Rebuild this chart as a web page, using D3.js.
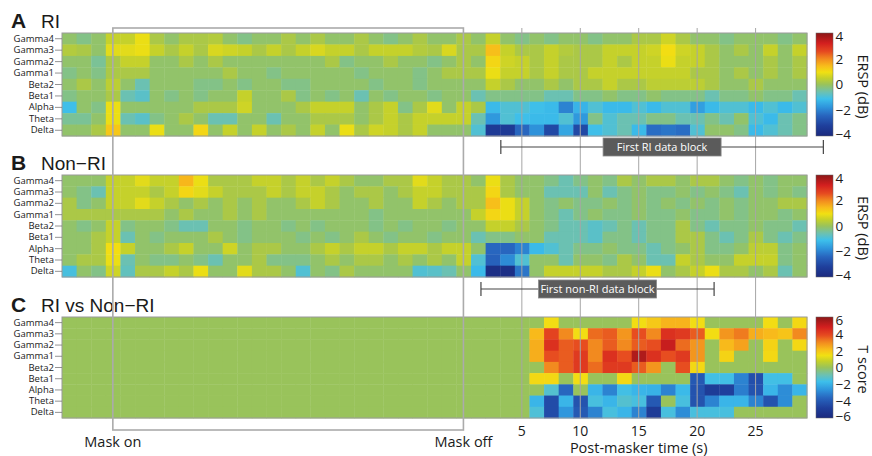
<!DOCTYPE html>
<html>
<head>
<meta charset="utf-8">
<script src="https://cdn.jsdelivr.net/npm/d3@7"></script>
<style>
  body { margin: 0; background: #fff; }
  svg { display: block; }
  text { font-family: "Open Sans", "Liberation Sans", sans-serif; fill: #1a1a1a; }
  .title { font-family: "Liberation Sans", Arial, sans-serif; }
</style>
</head>
<body>
<div id="chart"></div>
<script>
// ---- data ----
const bands = ["Gamma4", "Gamma3", "Gamma2", "Gamma1", "Beta2", "Beta1", "Alpha", "Theta", "Delta"];
const binStart = -34.35;   // s, left edge of first bin (0 = mask off)
const binWidth = 1.25;     // s per bin
const nBins = 51;
const maskOn = -30, maskOff = 0;
const timeTicks = [5, 10, 15, 20, 25];
const erspTicks = [4, 2, 0, -2, -4];
const tTicks = [6, 4, 2, 0, -2, -4, -6];
const riBlock = [3.2, 30.8];
const nonRiBlock = [1.5, 21.45];

// ERSP (dB), RI group, one row per band, 51 bins
const ersp_ri = [
  [-0.1,-0.3,-0.1,0.5,0.5,0.9,0.2,-0.1,0.2,0.2,0.3,-0.1,-0.3,-0.1,-0.1,0.2, -0.1,0.2,-0.1,-0.1,0.2,-0.1,-0.3,-0.1,0.2,-0.1,-0.1,0.2, -0.1,0.5,-0.1,-0.3,-0.1,-0.3,-0.1, -0.1,-0.3,-0.1,-0.1,0.2,0.2,0.6,0.2,-0.1,-0.1,-0.3,-0.1,-0.1,-0.1,-0.3,-0.1],
  [0.3,0.2,-0.1,0.8,0.8,0.9,0.5,0.2,0.5,0.2,0.7,0.6,0.5,0.2,0.5,0.2, 0.5,0.7,0.5,0.5,0.2,0.5,0.5,0.5,0.3,0.2,0.7,0.2, 0.2,1.4,0.5,0.2,0.2,0.5,0.3, 0.2,0.2,0.5,0.5,0.5,0.6,1.0,0.6,0.5,0.2,-0.1,0.2,-0.1,0.5,-0.1,0.5],
  [-0.1,-0.1,-0.4,0.2,0.5,0.5,-0.1,-0.1,0.2,-0.1,0.2,-0.1,-0.1,-0.1,-0.1,-0.1, -0.1,-0.1,0.2,-0.3,-0.1,-0.1,0.2,-0.1,-0.1,-0.3,-0.1,0.2, -0.1,1.1,0.6,0.5,0.2,0.5,0.2, 0.2,0.2,0.5,0.2,0.5,0.5,0.9,0.5,0.5,0.2,-0.1,-0.1,-0.1,0.2,-0.1,0.2],
  [-0.3,-0.1,-0.3,0.2,0.2,0.2,-0.1,-0.1,-0.1,-0.1,-0.1,0.2,-0.1,-0.1,-0.3,-0.1, -0.1,-0.1,-0.1,-0.1,-0.3,-0.1,-0.1,-0.1,-0.3,-0.1,0.2,0.2, 0.2,0.9,0.5,0.5,0.2,0.5,0.2, 0.2,0.5,0.5,0.5,0.5,0.5,0.5,0.5,0.2,0.2,-0.1,0.2,-0.1,0.2,-0.1,0.2],
  [-0.1,0.2,-0.1,0.4,-0.1,-0.6,-0.1,-0.1,-0.1,-0.3,-0.3,-0.1,-0.3,-0.1,-0.1,-0.3, -0.3,-0.1,-0.1,-0.1,-0.1,-0.3,-0.1,-0.1,-0.3,-0.1,-0.1,-0.1, -0.1,0.5,0.2,-0.1,-0.1,0.2,-0.1, 0.2,0.2,0.5,0.2,0.2,0.4,0.4,0.4,0.4,0.2,-0.1,-0.1,0.2,-0.1,-0.1,-0.1],
  [-0.3,-0.1,-0.1,0.2,-0.6,-0.8,-0.1,-0.3,-0.1,-0.3,-0.1,-0.1,0.5,-0.1,-0.1,0.2, -0.3,-0.1,-0.3,-0.1,-0.6,-0.1,-0.3,-0.1,-0.1,-0.3,-0.1,-0.1, -0.6,-0.3,-0.3,-0.3,-0.3,-0.6,-0.6, -0.3,-0.3,-0.1,-0.3,-0.3,-0.1,-0.3,-0.3,-0.3,-0.6,-0.3,-0.3,-0.1,-0.3,-0.3,-0.6],
  [-1.1,-0.1,-0.3,0.9,-0.1,-0.1,-0.1,-0.1,-0.1,0.2,0.2,0.2,0.6,-0.1,-0.1,-0.1, 0.2,0.5,0.5,0.5,-0.1,0.2,0.5,-0.3,0.2,0.8,-0.1,0.5, 0.2,-1.2,-0.9,-0.9,-1.1,-1.2,-2.0, -1.3,-0.9,-1.2,-1.2,-0.9,-1.2,-0.9,-0.9,-1.6,-1.2,-0.9,-0.9,-1.2,-0.9,-1.2,-0.9],
  [-0.4,-0.4,-0.1,0.9,-0.6,-0.8,-0.3,-0.1,0.2,-0.1,-0.6,-0.6,-0.1,-0.1,-0.6,-0.1, -0.1,0.2,0.2,0.2,-0.1,0.2,0.5,0.2,0.5,0.5,0.5,0.5, -0.6,-1.7,-0.9,-1.1,-1.2,-1.2,-0.9, -1.7,-0.3,-0.9,-0.6,-0.6,-0.3,-0.3,-0.6,-0.6,-0.3,-0.6,-0.1,-0.9,-1.2,-0.6,-0.3],
  [-0.1,-0.1,0.2,1.3,-0.1,-0.1,0.9,-0.1,-0.1,1.1,-0.1,0.5,-0.1,0.5,-0.1,0.2, -0.1,0.5,-0.1,0.9,0.2,0.6,0.5,0.2,0.5,-0.1,-0.1,-0.1, -0.9,-3.4,-3.4,-2.4,-1.8,-3.0,-1.5, -3.0,-1.1,-0.9,-0.6,-1.2,-2.3,-2.2,-2.3,-0.9,-0.1,-0.1,-0.3,-1.2,-0.9,-0.6,-0.3]
];

// ERSP (dB), non-RI group
const ersp_nonri = [
  [-0.1,-0.1,-0.1,0.5,0.5,0.8,0.5,0.5,1.5,0.9,0.2,0.2,0.2,0.5,0.5,0.2, 0.5,0.2,0.5,0.2,-0.1,-0.1,0.2,0.2,0.8,0.5,0.2,0.2, -0.1,0.9,0.2,-0.1,-0.1,-0.3,-0.6, -0.3,-0.1,-0.3,0.2,-0.1,0.2,0.2,-0.1,0.2,0.2,-0.1,-0.3,-0.1,-0.3,-0.1,-0.1],
  [-0.1,-0.3,-0.6,0.5,0.5,0.5,0.2,0.5,1.1,0.8,0.5,0.2,0.2,0.2,0.5,0.2, 0.5,0.5,0.2,-0.1,0.2,0.2,-0.1,0.2,0.5,0.5,0.2,0.2, 0.2,1.1,0.2,-0.1,-0.1,-0.6,-0.6, -0.6,-0.1,-0.6,-0.3,-0.1,-0.3,-0.3,-0.1,-0.3,-0.1,-0.3,-0.6,-0.1,-0.3,-0.1,-0.3],
  [0.2,-0.3,-0.1,0.5,0.5,0.8,0.5,0.2,-0.1,0.2,-0.1,0.2,-0.1,0.2,-0.1,-0.1, 0.2,0.5,0.2,-0.1,-0.1,0.2,-0.1,-0.1,0.5,0.2,-0.1,0.2, 0.2,1.4,0.9,0.5,-0.1,-0.3,-0.1, -0.3,-0.3,-0.1,-0.3,-0.1,-0.3,-0.1,-0.3,-0.1,-0.3,-0.1,-0.3,-0.1,-0.1,0.2,0.2],
  [0.2,0.2,0.2,0.2,0.2,0.2,0.2,-0.1,0.2,-0.1,-0.1,0.2,-0.1,0.2,-0.1,-0.1, -0.1,-0.1,-0.1,-0.1,-0.1,-0.3,-0.1,-0.1,-0.1,-0.1,-0.1,-0.1, 0.5,1.1,0.9,0.5,-0.1,-0.3,-0.6, -0.3,-0.1,-0.3,-0.3,-0.1,-0.3,-0.3,-0.1,-0.3,-0.3,-0.1,-0.3,-0.1,-0.1,-0.3,-0.1],
  [-0.1,-0.3,-0.1,0.5,-0.3,-0.1,-0.1,-0.3,-0.6,-0.6,-0.1,-0.1,-0.3,-0.1,-0.1,-0.3, -0.1,-0.3,-0.1,-0.1,-0.1,-0.3,-0.1,-0.3,-0.1,-0.1,-0.3,-0.1, -0.1,0.5,0.5,0.2,-0.1,-0.3,-0.6, -0.6,-0.8,-0.6,-0.3,-0.6,-0.3,-0.3,0.2,-0.3,-0.6,-0.3,-0.3,-0.1,-0.3,-0.3,-0.6],
  [-0.1,-0.1,0.2,0.5,-0.6,-0.1,-0.3,-0.1,-0.1,-0.1,0.2,-0.1,-0.3,-0.1,-0.1,-0.1, -0.3,-0.1,-0.3,-0.1,0.2,-0.1,-0.3,-0.1,-0.1,-0.3,-0.1,-0.1, -0.6,-0.3,-0.3,-0.1,-0.1,-0.6,-0.6, -0.6,-0.8,-0.3,-0.3,-0.6,-0.3,-0.3,0.2,0.2,-0.3,-0.6,-0.3,0.2,-0.3,-0.6,-0.3],
  [-0.1,-0.1,0.2,1.0,0.5,-0.1,-0.1,0.2,0.5,-0.1,-0.1,0.6,-0.1,0.2,0.2,-0.1, -0.1,0.2,0.5,0.2,0.5,0.5,0.2,0.5,0.5,0.2,0.5,0.5, -0.1,-2.4,-2.4,-2.0,-1.2,-0.9,-0.6, -0.3,-0.3,-0.1,-0.3,-0.3,-0.6,-0.3,-0.1,0.2,-0.3,-0.3,-0.1,0.4,0.4,-0.3,-0.1],
  [-0.1,0.2,0.2,0.9,-0.6,-0.1,-0.3,-0.3,-0.1,-0.3,-0.6,-0.1,-0.1,0.2,-0.3,-0.3, -0.3,-0.1,0.2,-0.1,0.2,0.2,-0.1,0.2,-0.1,0.2,-0.1,0.5, -0.9,-2.5,-1.9,-0.9,-0.1,-0.1,-0.6, -0.1,-0.1,-0.3,0.2,-0.1,-0.6,-0.6,0.5,0.2,-0.1,-0.1,0.5,0.5,0.5,-0.3,-0.1],
  [-1.0,-0.1,-0.3,0.6,-0.7,0.2,0.2,0.5,0.2,0.9,-0.1,-0.1,0.8,0.2,0.2,-0.1, -0.9,-0.1,-0.3,0.2,-0.1,-0.1,-0.1,-0.1,-0.9,-0.8,-0.6,-0.1, -1.2,-3.8,-3.8,-2.2,-0.1,0.5,0.5, 0.5,0.5,0.2,0.2,0.5,0.9,-0.1,0.2,0.5,0.9,0.2,0.2,-0.1,0.2,-0.6,-0.1]
];

// T score RI vs non-RI; bins before tFirstBin are 0 (not significant)
const tFirstBin = 32;
const t_score = [
  [0,1.5,0,0,0,0,0,1.5,1.9,2.3,2.3,1.5,0,0,0,0,1.5,0,1.6],
  [2.2,4.0,3.0,1.5,3.4,3.6,2.8,3.8,3.0,4.4,4.2,3.6,1.5,2.8,3.2,2.4,2.2,2.0,3.0],
  [2.4,4.4,3.6,3.8,3.0,3.6,3.0,3.6,3.8,5.0,3.4,2.8,0,2.2,2.6,0,1.7,0,1.6],
  [2.4,3.8,3.6,4.2,3.0,4.4,3.8,5.4,4.4,3.8,4.2,2.8,0,1.7,0,0,1.6,0,0],
  [0,3.0,3.6,4.2,3.4,4.2,4.2,3.6,2.8,0,3.8,1.6,0,0,0,0,0,0,0],
  [1.6,1.6,0,1.5,0,0,1.6,0,0,0,0,-4.0,-1.6,-1.6,-3.0,-4.3,-1.6,-1.6,0],
  [0,-1.3,-3.6,0,-1.9,-3.0,-1.6,-1.9,-2.0,-3.0,-1.8,-4.2,-5.0,-4.8,-3.1,-4.2,-1.9,-2.8,-1.9],
  [-1.9,-4.4,-1.9,-4.2,-1.5,-1.9,-1.3,-1.5,-4.0,0,-1.5,-4.2,-3.0,-1.9,-1.9,-3.0,-4.2,-2.8,0],
  [-1.4,-4.4,-2.6,-4.0,-3.0,-1.5,-1.9,-3.0,-5.0,-1.5,-2.8,-1.5,-1.5,-1.5,0,0,0,0,0]
];

// jet-like colour map, position 0..1
const cmapStops = [0, 0.10, 0.20, 0.28, 0.36, 0.43, 0.50, 0.56, 0.62, 0.68, 0.75, 0.82, 0.90, 1];
const cmapColors = ["#1b2a7e", "#1f3f9c", "#2866bf", "#2e95dc", "#3dbfeb", "#6fc1ae", "#99c35b",
                    "#c3d02c", "#f1e012", "#f8bc1b", "#f28a1f", "#e64a20", "#d31f1f", "#8c1717"];

const cmap = d3.scaleLinear().domain(cmapStops).range(cmapColors)
  .interpolate(d3.interpolateRgb).clamp(true);

const width = 872, height = 456;
const svg = d3.select("#chart").append("svg")
    .attr("width", width)
    .attr("height", height);

const xScale = d3.scaleLinear()
  .domain([binStart, binStart + nBins * binWidth])
  .range([62, 807]);

const t_full = t_score.map(row => d3.range(nBins).map(i => i < tFirstBin ? 0 : row[i - tFirstBin]));

const panels = [
  {letter: "A", name: "RI", top: 33, bottom: 136, values: ersp_ri, domain: [-4, 4], ticks: erspTicks, label: "ERSP (dB)", id: "gA"},
  {letter: "B", name: "Non\u2212RI", top: 175, bottom: 277, values: ersp_nonri, domain: [-4, 4], ticks: erspTicks, label: "ERSP (dB)", id: "gB"},
  {letter: "C", name: "RI vs Non\u2212RI", top: 317, bottom: 418, values: t_full, domain: [-6, 6], ticks: tTicks, label: "T score", id: "gC"}
];

// gradient for the colour bars
const defs = svg.append("defs");
const grad = defs.append("linearGradient").attr("id", "cbar")
  .attr("x1", 0).attr("y1", 1).attr("x2", 0).attr("y2", 0);
d3.range(0, 1.0001, 0.02).forEach(u => {
  grad.append("stop").attr("offset", u).attr("stop-color", cmap(u));
});

function drawPanel(p) {
  const yScale = d3.scaleBand().domain(bands).range([p.top, p.bottom]);
  const norm = d3.scaleLinear().domain(p.domain).range([0, 1]);
  const g = svg.append("g").attr("id", p.id);

  const cells = [];
  p.values.forEach((row, r) => row.forEach((v, i) => cells.push({band: bands[r], i: i, v: v})));

  const cw = xScale(binStart + binWidth) - xScale(binStart);
  g.selectAll("rect.cell")
    .data(cells)
    .enter().append("rect")
      .attr("class", "cell")
      .attr("x", d => xScale(binStart + d.i * binWidth))
      .attr("y", d => yScale(d.band))
      .attr("width", cw + 0.4)
      .attr("height", yScale.bandwidth() + 0.4)
      .attr("fill", d => cmap(norm(d.v)));

  g.append("rect")
    .attr("x", xScale.range()[0]).attr("y", p.top)
    .attr("width", xScale.range()[1] - xScale.range()[0])
    .attr("height", p.bottom - p.top)
    .attr("fill", "none").attr("stroke", "#9a9a9a").attr("stroke-width", 1);

  // band axis
  const yAxis = g.append("g")
    .attr("transform", `translate(${xScale.range()[0]},0)`)
    .call(d3.axisLeft(yScale).tickSize(7).tickPadding(1));
  yAxis.select(".domain").remove();
  yAxis.selectAll(".tick line").attr("stroke", "#777").attr("stroke-width", 0.8);
  yAxis.selectAll(".tick text")
    .style("font-family", '"Open Sans", sans-serif')
    .style("font-size", "9.5px").attr("fill", "#222");

  // title
  svg.append("text").attr("class", "title")
    .attr("x", 11).attr("y", p.top - 5)
    .style("font-size", "21px").style("font-weight", "bold")
    .text(p.letter);
  svg.append("text").attr("class", "title")
    .attr("x", 41).attr("y", p.top - 5)
    .style("font-size", "19px")
    .text(p.name);

  // colour bar
  const cb = d3.scaleLinear().domain(p.domain).range([p.bottom, p.top]);
  svg.append("rect")
    .attr("x", 816).attr("y", p.top).attr("width", 17).attr("height", p.bottom - p.top)
    .attr("fill", "url(#cbar)").attr("stroke", "#666").attr("stroke-width", 0.5);
  svg.selectAll(null)
    .data(p.ticks)
    .enter().append("text")
      .attr("x", 835.5)
      .attr("y", d => Math.max(p.top + 3, Math.min(p.bottom - 2, cb(d))))
      .attr("dy", "0.36em")
      .style("font-size", "13.5px")
      .text(d => d3.format("d")(d));
  svg.append("text")
    .attr("transform", `translate(863,${(p.top + p.bottom) / 2 + 2}) rotate(90)`)
    .attr("text-anchor", "middle")
    .attr("dy", "0.35em")
    .style("font-size", "14.5px")
    .text(p.label);
}

panels.forEach(drawPanel);

// time grid lines over the maps
svg.selectAll("line.tgrid")
  .data(timeTicks)
  .enter().append("line")
    .attr("class", "tgrid")
    .attr("x1", d => xScale(d)).attr("x2", d => xScale(d))
    .attr("y1", 28).attr("y2", 418)
    .attr("stroke", "#a6a6a6").attr("stroke-width", 1);

svg.selectAll("text.tlab")
  .data(timeTicks)
  .enter().append("text")
    .attr("class", "tlab")
    .attr("x", d => xScale(d)).attr("y", 436)
    .attr("text-anchor", "middle")
    .style("font-size", "14px")
    .text(d => d);

svg.append("text")
  .attr("x", xScale(15)).attr("y", 453)
  .attr("text-anchor", "middle")
  .style("font-size", "14.5px")
  .text("Post-masker time (s)");

// masker period box
svg.append("rect")
  .attr("x", xScale(maskOn)).attr("y", 28)
  .attr("width", xScale(maskOff) - xScale(maskOn)).attr("height", 402)
  .attr("fill", "none").attr("stroke", "#ababab").attr("stroke-width", 1.6);
svg.append("text")
  .attr("x", xScale(maskOn)).attr("y", 447)
  .attr("text-anchor", "middle").style("font-size", "14.5px")
  .text("Mask on");
svg.append("text")
  .attr("x", xScale(maskOff)).attr("y", 447)
  .attr("text-anchor", "middle").style("font-size", "14.5px")
  .text("Mask off");

// data block annotations
function drawBlock(range, yy, label) {
  const g = svg.append("g");
  const x0 = xScale(range[0]), x1 = xScale(range[1]);
  g.append("line").attr("x1", x0).attr("x2", x1).attr("y1", yy).attr("y2", yy)
    .attr("stroke", "#444").attr("stroke-width", 1.2);
  [x0, x1].forEach(xx => {
    g.append("line").attr("x1", xx).attr("x2", xx).attr("y1", yy - 7).attr("y2", yy + 7)
      .attr("stroke", "#444").attr("stroke-width", 1.2);
  });
  const cx = (x0 + x1) / 2;
  g.append("rect").attr("x", cx - 59).attr("y", yy - 9).attr("width", 118).attr("height", 18)
    .attr("fill", "#5b5b5b").attr("stroke", "#8a8a8a").attr("stroke-width", 0.8);
  g.append("text").attr("x", cx).attr("y", yy).attr("dy", "0.36em")
    .attr("text-anchor", "middle")
    .style("font-size", "11px").style("fill", "#fff")
    .text(label);
}
drawBlock(riBlock, 147, "First RI data block");
drawBlock(nonRiBlock, 289, "First non-RI data block");
</script>
</body>
</html>
